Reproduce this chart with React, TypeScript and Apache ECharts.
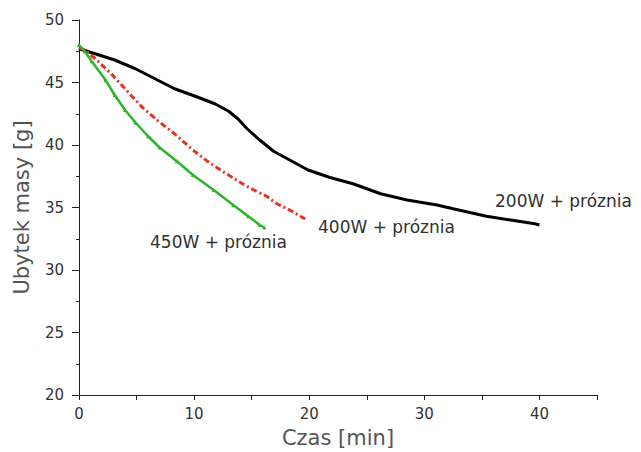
import React, { useEffect, useRef } from "react";
import * as echarts from "echarts";

const xTicks = [0, 10, 20, 30, 40];
const series200: [number, number][] = [
  [0, 47.7], [1.4, 47.3], [3.1, 46.8], [4.9, 46.1], [6.6, 45.3], [8.3, 44.5],
  [10.1, 43.9], [11.8, 43.3], [13.0, 42.7], [13.8, 42.1], [14.6, 41.3], [15.7, 40.4],
  [16.9, 39.5], [18.5, 38.7], [19.9, 38.0], [21.8, 37.4], [23.8, 36.9], [26.2, 36.1],
  [28.5, 35.6], [31.1, 35.2], [32.5, 34.9], [35.4, 34.3], [37.5, 34.0], [39.6, 33.7], [40.0, 33.6],
];
const series400: [number, number][] = [
  [0, 47.8], [0.5, 47.6], [1.4, 46.9], [2.8, 45.7], [4.0, 44.5], [5.4, 43.1],
  [6.9, 41.9], [8.3, 40.9], [9.9, 39.6], [11.3, 38.6], [12.8, 37.7], [14.2, 36.9],
  [15.4, 36.3], [16.3, 35.9], [17.2, 35.3], [18.5, 34.7], [19.8, 34.0],
];
const series450: [number, number][] = [
  [0, 48.0], [0.5, 47.5], [1.1, 46.7], [2.3, 45.2], [3.1, 44.0], [4.0, 42.8],
  [4.9, 41.8], [6.0, 40.7], [7.0, 39.8], [8.5, 38.7], [9.9, 37.6], [11.7, 36.4],
  [13.4, 35.2], [14.7, 34.3], [15.7, 33.6], [16.1, 33.4],
];
const seriesNames = ["200W + próznia", "400W + próznia", "450W + próznia"];

export default function App() {
  const ref = useRef<HTMLDivElement>(null);
  useEffect(() => {
    if (!ref.current) return;
    const chart = echarts.init(ref.current, null, { renderer: "svg" });
    const font = "DejaVu Sans";
    chart.setOption({
      animation: false,
      backgroundColor: "#fff",
      grid: { left: 79, top: 20, right: 44, bottom: 57, containLabel: false, outerBoundsMode: "none" },
      xAxis: {
        type: "value",
        min: 0,
        max: 45,
        interval: 5,
        name: "Czas [min]",
        nameLocation: "middle",
        nameGap: 32,
        nameTextStyle: { fontFamily: font, fontSize: 21, color: "#555" },
        axisLine: { show: true, lineStyle: { color: "#222", width: 1 } },
        axisTick: { show: true, inside: false, length: 5, lineStyle: { color: "#222" } },
        axisLabel: {
          fontFamily: font,
          fontSize: 15,
          color: "#333",
          margin: 11,
          formatter: (v: number) => (xTicks.includes(v) ? String(v) : ""),
        },
        splitLine: { show: false },
      },
      yAxis: {
        type: "value",
        min: 20,
        max: 50,
        interval: 5,
        name: "Ubytek masy [g]",
        nameLocation: "middle",
        nameGap: 47,
        nameTextStyle: { fontFamily: font, fontSize: 21, color: "#555" },
        axisLine: { show: true, lineStyle: { color: "#222", width: 1 } },
        axisTick: { show: true, inside: false, length: 7, lineStyle: { color: "#222" } },
        minorTick: { show: true, splitNumber: 2, length: 3, lineStyle: { color: "#222" } },
        axisLabel: { fontFamily: font, fontSize: 15, color: "#333", margin: 15 },
        splitLine: { show: false },
      },
      series: [
        {
          name: seriesNames[0],
          type: "line",
          data: series200,
          showSymbol: false,
          lineStyle: { color: "#000", width: 3 },
          itemStyle: { color: "#000" },
        },
        {
          name: seriesNames[1],
          type: "line",
          data: series400,
          showSymbol: false,
          lineStyle: { color: "#e8321f", width: 3, type: [6, 3, 2, 3] },
          itemStyle: { color: "#e8321f" },
        },
        {
          name: seriesNames[2],
          type: "line",
          data: series450,
          symbol: "triangle",
          symbolSize: 4,
          lineStyle: { color: "#2cb52c", width: 2.5 },
          itemStyle: { color: "#2cb52c" },
        },
      ],
      graphic: [
        { type: "text", left: 495, top: 192, style: { text: seriesNames[0], font: `17px '${font}'`, fill: "#303030" } },
        { type: "text", left: 318, top: 218, style: { text: seriesNames[1], font: `17px '${font}'`, fill: "#303030" } },
        { type: "text", left: 150, top: 233, style: { text: seriesNames[2], font: `17px '${font}'`, fill: "#303030" } },
      ],
    });
    return () => chart.dispose();
  }, []);
  return <div ref={ref} style={{ width: 641, height: 452, position: "absolute", left: 0, top: 0 }} />;
}
